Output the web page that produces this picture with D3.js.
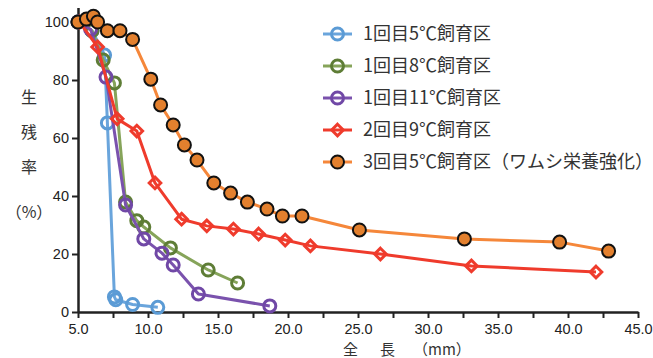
<!DOCTYPE html>
<html>
<head>
<meta charset="utf-8">
<script src="https://cdn.jsdelivr.net/npm/d3@7"></script>
<style>
  body { margin: 0; background: #fff; }
  svg { display: block; }
  .tick text { font-family: "Liberation Sans", Arial, sans-serif; font-size: 14.5px; fill: #222; }
  .jp { font-family: "Noto Sans CJK JP", sans-serif; fill: #333; }
</style>
</head>
<body>
<svg id="chart" width="653" height="358"></svg>
<script>
const seriesNames = ["1回目5℃飼育区", "1回目8℃飼育区", "1回目11℃飼育区", "2回目9℃飼育区", "3回目5℃飼育区（ワムシ栄養強化）"];

// total length (mm) / survival (%)
const blueX = [5.0, 6.0, 6.9, 7.1, 7.6, 7.7, 8.9, 10.7];
const blueY = [100, 97, 88.6, 65.2, 5.2, 4.2, 2.6, 1.6];
const greenX = [5.0, 6.0, 6.8, 7.6, 8.4, 9.2, 9.7, 11.6, 14.3, 16.4];
const greenY = [100, 97, 86.9, 79, 37.9, 31.5, 29.3, 22.1, 14.5, 10.0];
const purpleX = [5.0, 5.9, 7.0, 8.4, 9.7, 11.0, 11.8, 13.6, 18.7];
const purpleY = [100, 97.5, 81, 36.9, 25.2, 20.3, 16.2, 6.2, 2.1];
const redX = [5.1, 6.4, 7.8, 9.2, 10.5, 12.4, 14.2, 16.1, 17.9, 19.8, 21.6, 26.6, 33.1, 42.0];
const redY = [100, 91.4, 66.6, 62.4, 44.5, 32, 29.7, 28.6, 26.9, 24.8, 22.8, 20, 15.9, 13.8];
const orangeX = [5.0, 5.6, 6.1, 6.4, 7.1, 8.0, 8.9, 10.2, 10.9, 11.8, 12.6, 13.5, 14.7, 15.9, 17.1, 18.5, 19.6, 21.0, 25.1, 32.6, 39.4, 42.9];
const orangeY = [100, 101, 102, 100, 97, 97, 94, 80.3, 71.4, 64.5, 57.6, 52.4, 44.5, 41, 37.9, 35.5, 33.1, 33.1, 28.3, 25.2, 24.1, 21.0];

const xTicks = [5, 10, 15, 20, 25, 30, 35, 40, 45];
const xMinorTicks = [7.5, 12.5, 17.5, 22.5, 27.5, 32.5, 37.5, 42.5];
const yTicks = [0, 20, 40, 60, 80, 100];

const series = [
  { name: seriesNames[0], xs: blueX, ys: blueY, line: "#6aa5dc", mark: "#5b9bd5", shape: "open" },
  { name: seriesNames[1], xs: greenX, ys: greenY, line: "#86a45a", mark: "#5e7d36", shape: "open" },
  { name: seriesNames[2], xs: purpleX, ys: purpleY, line: "#7a52ad", mark: "#7048a6", shape: "open" },
  { name: seriesNames[3], xs: redX, ys: redY, line: "#ef3b2c", mark: "#ef3b2c", shape: "diamond" },
  { name: seriesNames[4], xs: orangeX, ys: orangeY, line: "#f5873a", mark: "#e3802e", shape: "filled" }
];

const svg = d3.select("#chart");
const x = d3.scaleLinear().domain([5, 45]).range([78, 638]);
const y = d3.scaleLinear().domain([0, 105]).range([312, 7.5]);

// axes
const xAxis = svg.append("g").attr("transform", "translate(0,312)")
  .call(d3.axisBottom(x).tickValues(xTicks).tickFormat(d3.format(".1f")).tickSize(6).tickSizeOuter(0));
svg.append("g").attr("transform", "translate(0,312)")
  .call(d3.axisBottom(x).tickValues(xMinorTicks).tickFormat("").tickSize(6).tickSizeOuter(0))
  .select(".domain").remove();
const yAxis = svg.append("g").attr("transform", "translate(78,0)")
  .call(d3.axisLeft(y).tickValues(yTicks).tickSize(6).tickSizeOuter(0));

svg.selectAll(".domain").attr("stroke", "#222").attr("stroke-width", 2.5);
svg.selectAll(".tick line").attr("stroke", "#222").attr("stroke-width", 2);
xAxis.selectAll(".tick text").attr("y", 8).attr("dy", "0.95em");
yAxis.selectAll(".tick text").attr("x", -9);

// axis titles
const yTitle = ["生", "残", "率"];
svg.selectAll(".ylab").data(yTitle).enter().append("text")
  .attr("class", "jp")
  .attr("x", 29).attr("y", (d, i) => 103 + i * 35)
  .attr("text-anchor", "middle")
  .style("font-size", "16px")
  .text(d => d);
svg.append("text").attr("class", "jp")
  .attr("x", 29).attr("y", 218).attr("text-anchor", "middle")
  .style("font-size", "16px").text("（%）");

const xTitle = [["全", 343], ["長", 380], ["（mm）", 413]];
svg.selectAll(".xlab").data(xTitle).enter().append("text")
  .attr("class", "jp")
  .attr("x", d => d[1]).attr("y", 354.5)
  .style("font-size", "15px")
  .text(d => d[0]);

// series
const lineGen = d3.line().x(d => x(d[0])).y(d => y(d[1]));
const diamond = d3.symbol().type(d3.symbolDiamond2).size(85);

function drawMarker(g, s, px, py) {
  if (s.shape === "open") {
    g.append("circle").attr("cx", px).attr("cy", py).attr("r", 6)
      .attr("fill", "none").attr("stroke", s.mark).attr("stroke-width", 3);
  } else if (s.shape === "diamond") {
    g.append("path").attr("d", diamond()).attr("transform", `translate(${px},${py})`)
      .attr("fill", "none").attr("stroke", s.mark).attr("stroke-width", 3);
  } else {
    g.append("circle").attr("cx", px).attr("cy", py).attr("r", 6.5)
      .attr("fill", s.mark).attr("stroke", "#111").attr("stroke-width", 2);
  }
}

series.forEach(s => {
  const pts = s.xs.map((v, i) => [v, s.ys[i]]);
  const g = svg.append("g");
  g.append("path").datum(pts).attr("d", lineGen)
    .attr("fill", "none").attr("stroke", s.line).attr("stroke-width", 3)
    .attr("stroke-linejoin", "round");
  pts.forEach(p => drawMarker(g, s, x(p[0]), y(p[1])));
});

// legend
const legend = svg.append("g").attr("transform", "translate(323,34)");
series.forEach((s, i) => {
  const row = legend.append("g").attr("transform", `translate(0,${i * 32})`);
  row.append("line").attr("x1", 0).attr("x2", 29).attr("y1", 0).attr("y2", 0)
    .attr("stroke", s.line).attr("stroke-width", 3);
  drawMarker(row, s, 14.5, 0);
  row.append("text").attr("class", "jp").attr("x", 40).attr("y", 0).attr("dy", "0.36em")
    .style("font-size", "18px").text(s.name);
});
</script>
</body>
</html>
